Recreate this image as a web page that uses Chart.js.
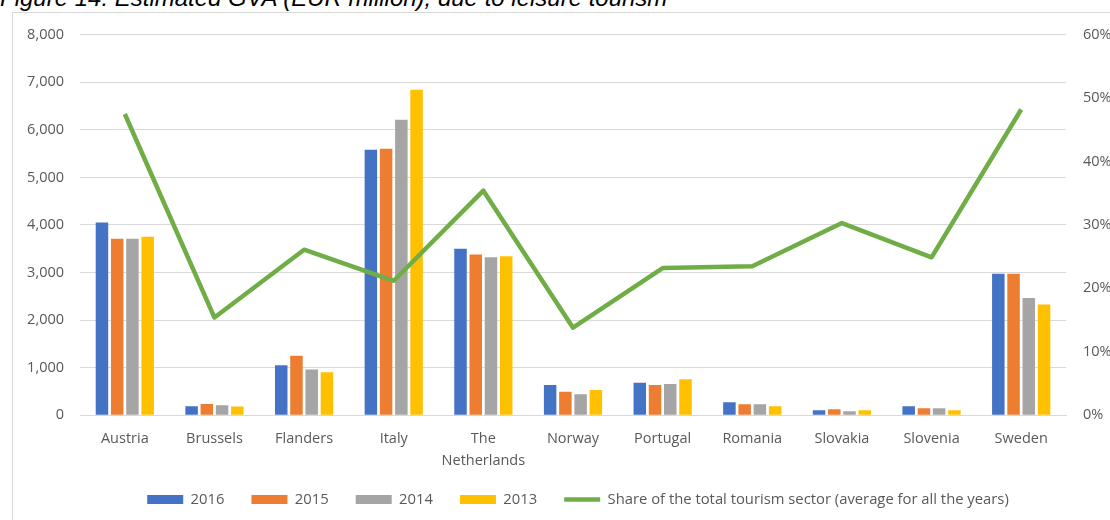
<!DOCTYPE html>
<html>
<head>
<meta charset="utf-8">
<title>Estimated GVA due to leisure tourism</title>
<script src="https://cdn.jsdelivr.net/npm/chart.js@4.4.1/dist/chart.umd.min.js"></script>
<style>
  html, body { margin: 0; padding: 0; background: #fff; overflow: hidden; }
  body { width: 1110px; height: 520px; position: relative; }
  #title {
    position: absolute; left: 0; top: -14px;
    font: italic 24px/24px "Liberation Sans", Arial, sans-serif;
    color: #000; white-space: nowrap;
  }
  #frame {
    position: absolute; left: 12px; top: 12px; width: 1200px; height: 600px;
    border: 1.5px solid #d9d9d9;
  }
  #chart { position: absolute; left: 13px; top: 9px; }
</style>
</head>
<body>
<div id="title">Figure 14: Estimated GVA (EUR million), due to leisure tourism</div>
<div id="frame"></div>
<canvas id="chart" width="1130" height="508"></canvas>
<script>
// Values (EUR million, share in %)
const countries = ['Austria', 'Brussels', 'Flanders', 'Italy', ['The', 'Netherlands'],
  'Norway', 'Portugal', 'Romania', 'Slovakia', 'Slovenia', 'Sweden'];

const gva2016 = [4050, 190, 1050, 5580, 3500, 635, 680, 270, 105, 190, 2975];
const gva2015 = [3710, 235, 1250, 5600, 3380, 495, 635, 230, 125, 145, 2975];
const gva2014 = [3710, 210, 960, 6210, 3320, 440, 655, 230, 85, 145, 2465];
const gva2013 = [3750, 185, 905, 6840, 3340, 530, 755, 190, 105, 105, 2325];

// share of the total tourism sector, average for all the years (%)
const tourismShare = [47.5, 15.4, 26.1, 21.2, 35.4, 13.8, 23.2, 23.5, 30.3, 24.9, 48.2];

const leftTicks = { min: 0, max: 8000, step: 1000 };
const rightTicks = { min: 0, max: 60, step: 10 };

const barColors = ['#4472C4', '#ED7D31', '#A5A5A5', '#FFC000'];
const lineColor = '#70AD47';
const textColor = '#595959';
const gridColor = '#d9d9d9';

function barSet(label, data, color) {
  return {
    type: 'bar',
    label: label,
    data: data,
    backgroundColor: color,
    borderWidth: 0,
    yAxisID: 'y',
    categoryPercentage: 0.68,
    barPercentage: 0.82,
    pointStyle: 'rect',
    order: 1
  };
}

const datasets = [
  barSet('2016', gva2016, barColors[0]),
  barSet('2015', gva2015, barColors[1]),
  barSet('2014', gva2014, barColors[2]),
  barSet('2013', gva2013, barColors[3]),
  {
    type: 'line',
    label: 'Share of the total tourism sector (average for all the years)',
    data: tourismShare,
    borderColor: lineColor,
    backgroundColor: lineColor,
    borderWidth: 4.5,
    borderJoinStyle: 'round',
    pointRadius: 0,
    pointHoverRadius: 0,
    pointStyle: 'line',
    tension: 0,
    yAxisID: 'y1',
    order: 0
  }
];

const tickFont = { family: '"Open Sans", sans-serif', size: 14.5 };

new Chart(document.getElementById('chart').getContext('2d'), {
  data: { labels: countries, datasets: datasets },
  options: {
    responsive: false,
    animation: false,
    devicePixelRatio: 1,
    layout: { padding: { top: 17, left: 0, right: 0, bottom: 0 } },
    plugins: {
      tooltip: { enabled: false },
      legend: {
        position: 'bottom',
        labels: {
          usePointStyle: true,
          pointStyleWidth: 36,
          boxHeight: 9,
          padding: 27,
          color: textColor,
          font: { family: '"Open Sans", sans-serif', size: 14.8 },
          sort: (a, b) => a.datasetIndex - b.datasetIndex
        }
      }
    },
    scales: {
      x: {
        grid: { display: false, drawTicks: false },
        border: { display: true, color: gridColor, width: 1 },
        ticks: {
          color: textColor,
          font: { family: '"Open Sans", sans-serif', size: 14.5, lineHeight: 1.5 },
          padding: 13,
          maxRotation: 0,
          autoSkip: false
        },
        afterFit: (scale) => {
          scale.height = 50;
          // let the two-line label run past the axis box, as in the original
          scale._computeLabelArea = () => undefined;
        }
      },
      y: {
        position: 'left',
        min: leftTicks.min,
        max: leftTicks.max,
        grid: { color: gridColor, lineWidth: 1, drawTicks: false },
        border: { display: false },
        ticks: {
          stepSize: leftTicks.step,
          padding: 16,
          color: textColor,
          font: tickFont,
          callback: (v) => v.toLocaleString('en-US')
        },
        afterFit: (scale) => { scale.width = 67; }
      },
      y1: {
        position: 'right',
        min: rightTicks.min,
        max: rightTicks.max,
        grid: { display: false, drawTicks: false },
        border: { display: false },
        ticks: {
          stepSize: rightTicks.step,
          padding: 17,
          color: textColor,
          font: tickFont,
          callback: (v) => v + '%'
        },
        afterFit: (scale) => { scale.width = 77; }
      }
    }
  }
});
</script>
</body>
</html>
